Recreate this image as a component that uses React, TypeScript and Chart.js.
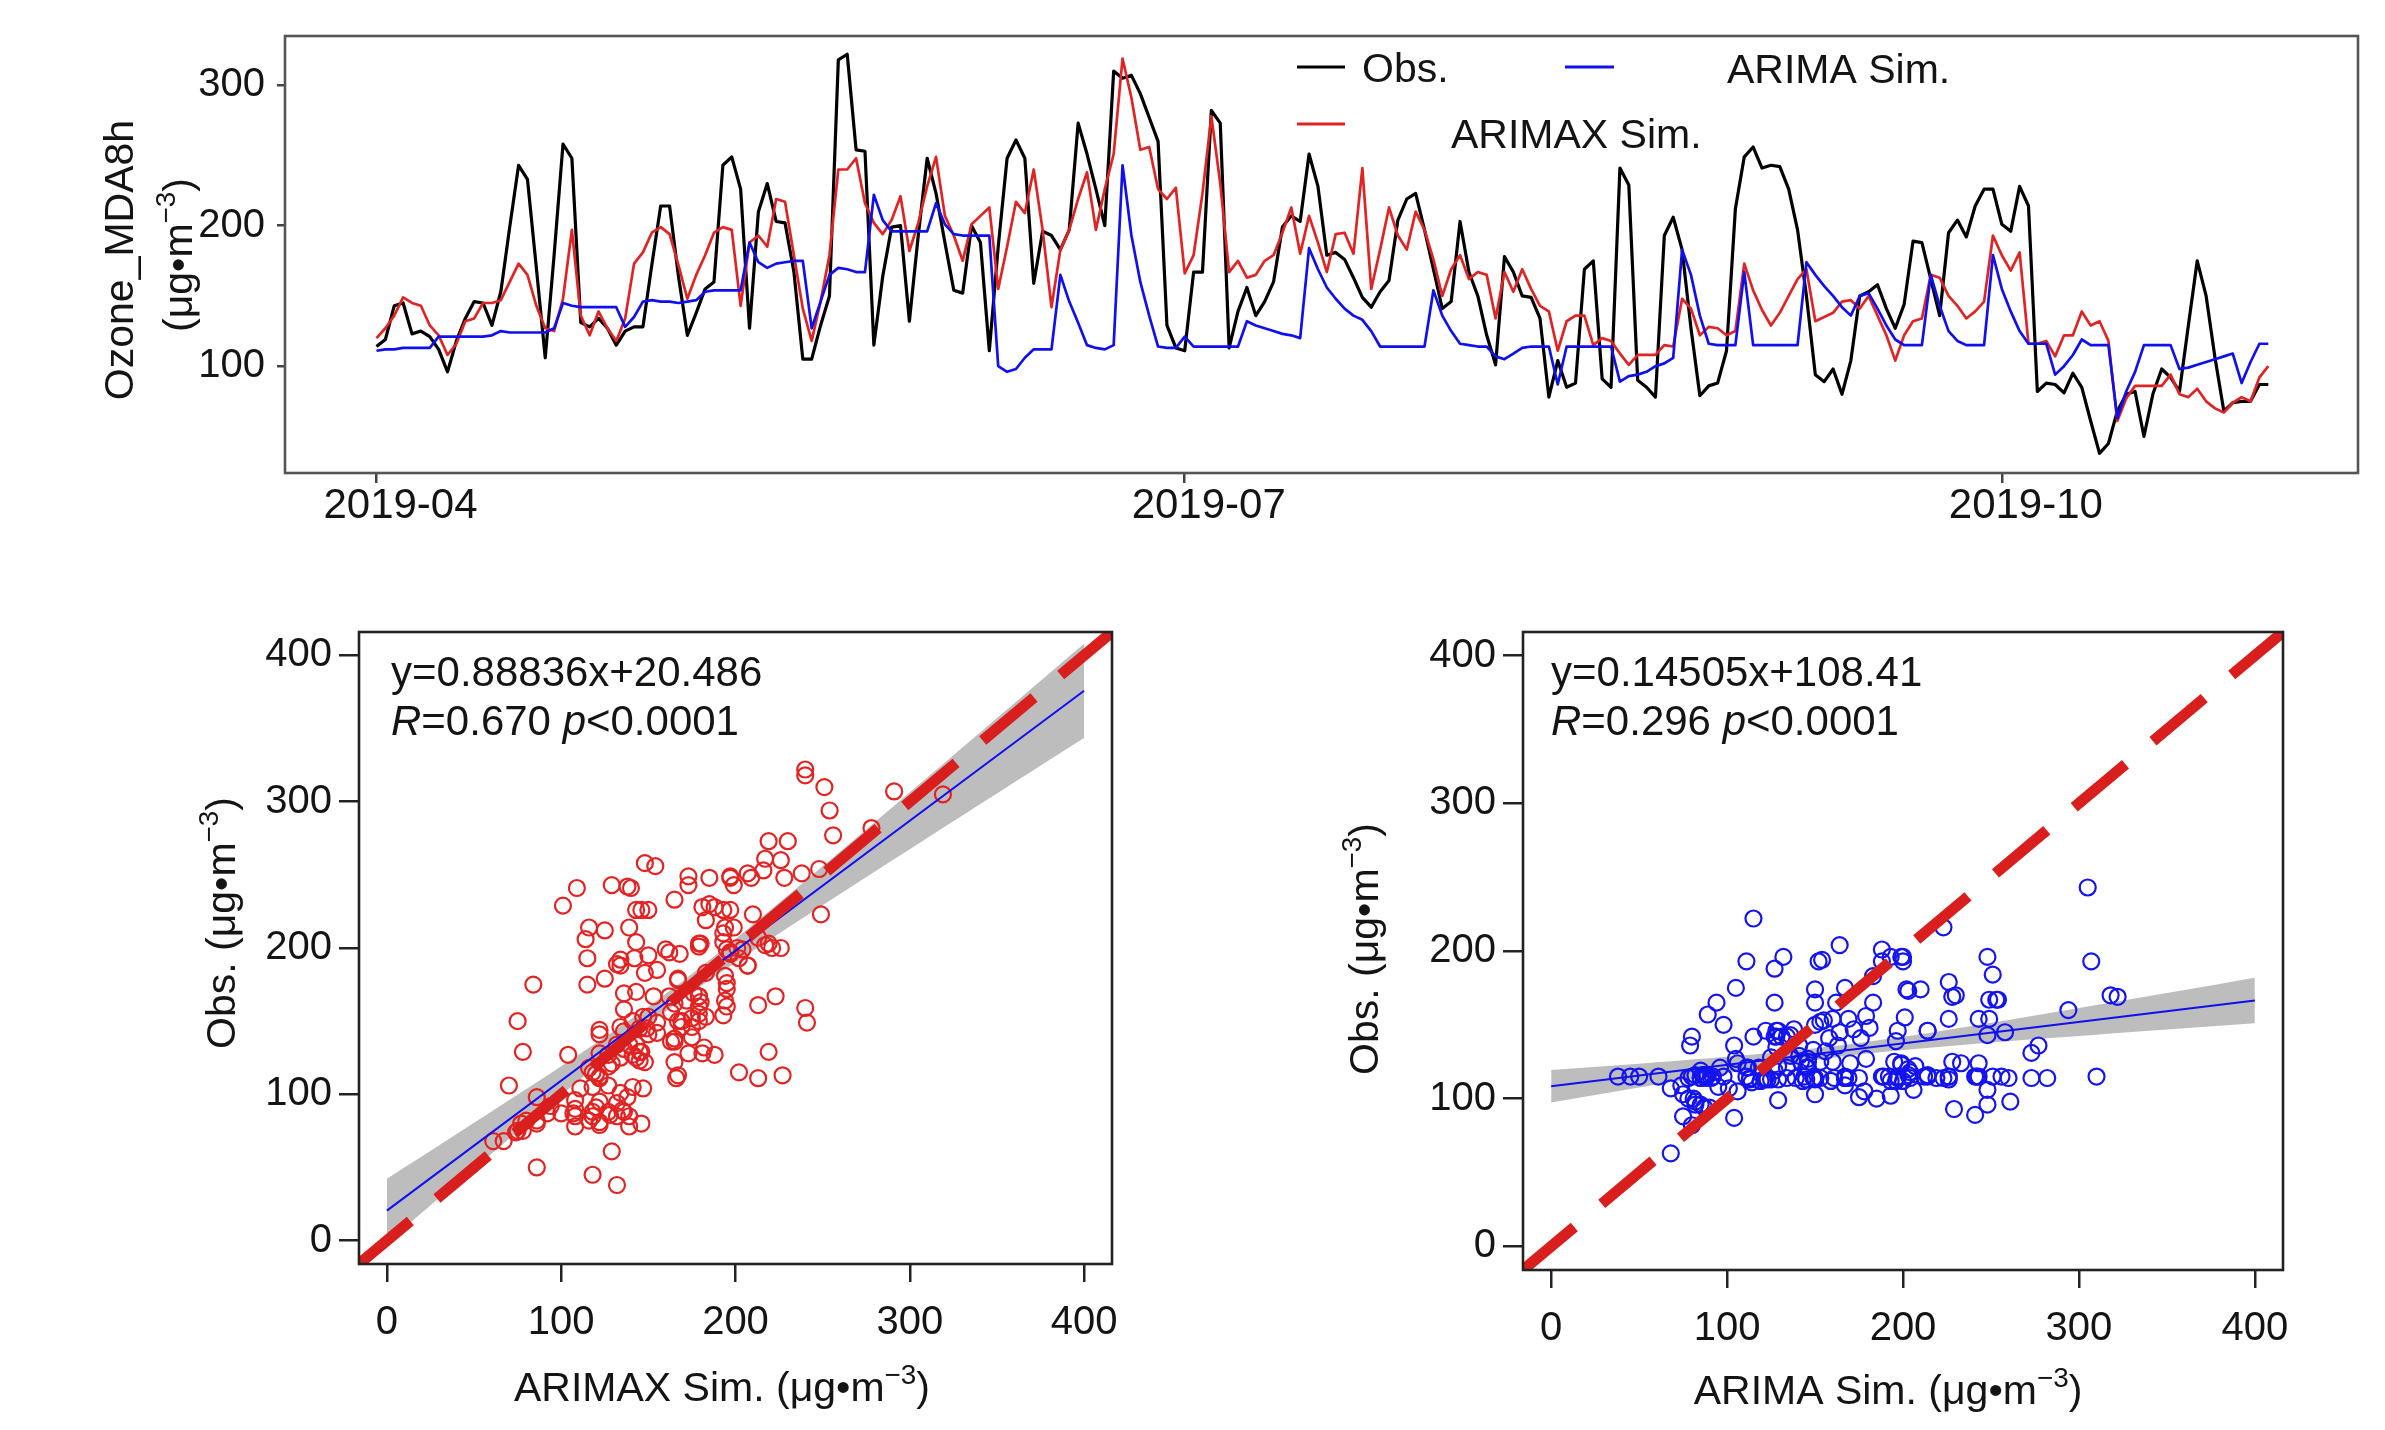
import React, { useEffect, useRef } from 'react';
import { Chart, registerables } from 'chart.js';

Chart.register(...registerables);

const FONT = '"Liberation Sans", Arial, Helvetica, sans-serif';
const TEXT = '#141414';
const RED_LINE = '#e02424';
const BLUE_LINE = '#1010ee';
const RED_PT = '#e32222';
const BLUE_PT = '#1414f0';
const DASH_RED = '#d91e1e';
const BAND = '#bdbdbd';

// ---------------- data (daily, starting 2019-04-01) ----------------
const OBS = [
  114, 119, 143, 145, 123, 125, 121, 112, 96, 118,
  134, 146, 145, 129, 153, 199, 243, 233, 170, 106,
  179, 258, 248, 131, 128, 134, 127, 115, 125, 128,
  128, 172, 214, 214, 164, 122, 138, 155, 160, 243,
  249, 226, 127, 210, 230, 203, 202, 167, 105, 105,
  129, 150, 318, 322, 254, 253, 115, 164, 199, 200,
  132, 193, 248, 223, 188, 154, 152, 200, 188, 111,
  185, 248, 261, 248, 159, 196, 193, 183, 197, 273,
  251, 226, 200, 310, 305, 307, 294, 277, 260, 129,
  113, 111, 167, 167, 282, 273, 113, 139, 156, 136,
  146, 160, 199, 207, 203, 251, 228, 179, 181, 176,
  163, 149, 142, 153, 161, 204, 219, 223, 197, 169,
  141, 146, 203, 167, 150, 122, 101, 178, 167, 150,
  149, 134, 78, 104, 85, 88, 169, 175, 91, 85,
  241, 229, 90, 85, 78, 193, 206, 183, 127, 79,
  86, 88, 111, 212, 249, 256, 241, 243, 242, 226,
  197, 150, 94, 89, 98, 80, 104, 150, 153, 158,
  141, 127, 144, 189, 188, 162, 136, 195, 204, 192,
  214, 226, 226, 201, 196, 228, 214, 82, 88, 87,
  81, 95, 85, 61, 38, 45, 68, 80, 82, 50,
  80, 98, 92, 82, 129, 175, 150, 106, 68, 74,
  75, 75, 87, 87,
];

const ARIMAX_SIM = [
  120, 127, 136, 149, 145, 143, 129, 122, 108, 116,
  132, 134, 145, 145, 147, 160, 173, 165, 143, 127,
  125, 148, 197, 136, 122, 139, 127, 118, 134, 173,
  181, 195, 199, 194, 172, 148, 165, 179, 195, 199,
  197, 143, 188, 193, 185, 219, 217, 179, 141, 118,
  146, 179, 240, 240, 248, 216, 202, 194, 204, 221,
  182, 202, 228, 249, 207, 193, 175, 201, 207, 213,
  155, 185, 217, 209, 240, 197, 142, 183, 197, 219,
  238, 197, 226, 251, 319, 291, 254, 256, 226, 219,
  227, 166, 179, 223, 278, 230, 167, 175, 163, 165,
  175, 179, 195, 213, 180, 207, 188, 167, 194, 195,
  180, 241, 155, 183, 213, 193, 183, 210, 197, 176,
  150, 169, 179, 162, 167, 165, 134, 167, 153, 169,
  155, 143, 139, 111, 132, 136, 136, 115, 120, 118,
  109, 101, 108, 108, 108, 115, 114, 148, 141, 122,
  128, 127, 122, 125, 173, 154, 140, 129, 138, 150,
  162, 169, 132, 135, 138, 146, 147, 141, 150, 136,
  122, 104, 122, 132, 134, 165, 163, 150, 143, 134,
  139, 146, 193, 179, 168, 181, 116, 116, 118, 107,
  122, 122, 139, 129, 132, 118, 61, 77, 86, 86,
  86, 86, 94, 80, 78, 84, 75, 70, 67, 74,
  78, 75, 92, 100,
];

const ARIMA_SIM = [
  111, 112, 112, 113, 113, 113, 113, 121, 121, 121,
  121, 121, 121, 122, 125, 124, 124, 124, 124, 124,
  127, 145, 143, 142, 142, 142, 142, 142, 128, 135,
  146, 147, 146, 146, 145, 146, 147, 153, 154, 154,
  154, 154, 188, 174, 170, 173, 174, 175, 175, 127,
  146, 165, 170, 169, 167, 167, 222, 204, 196, 196,
  196, 196, 196, 216, 201, 194, 193, 193, 193, 193,
  100, 96, 98, 106, 112, 112, 112, 165, 146, 131,
  115, 113, 112, 115, 243, 193, 160, 136, 114, 113,
  113, 121, 114, 114, 114, 114, 114, 114, 132, 129,
  127, 125, 123, 122, 120, 184, 169, 156, 148, 141,
  136, 133, 125, 114, 114, 114, 114, 114, 114, 154,
  136, 125, 116, 115, 114, 114, 107, 105, 109, 113,
  114, 114, 114, 87, 114, 114, 114, 114, 114, 114,
  89, 93, 94, 96, 100, 102, 106, 183, 165, 136,
  116, 115, 115, 115, 167, 115, 115, 115, 115, 115,
  115, 174, 165, 157, 150, 142, 136, 150, 152, 141,
  129, 119, 115, 115, 115, 165, 143, 125, 118, 115,
  115, 115, 179, 155, 139, 125, 116, 116, 116, 94,
  100, 108, 119, 115, 115, 115, 63, 82, 96, 115,
  115, 115, 115, 98, 99, 101, 103, 105, 107, 109,
  88, 103, 116, 116,
];

const DATE_TICK_DAYS = [0, 91, 183];
const DATE_TICK_LABELS = ['2019-04', '2019-07', '2019-10'];
const TS_Y_TICKS = [100, 200, 300];
const SCATTER_TICKS = [0, 100, 200, 300, 400];

const ARIMAX_FIT = { slope: 0.88836, intercept: 20.486, r: 0.67, p: '<0.0001' };
const ARIMA_FIT = { slope: 0.14505, intercept: 108.41, r: 0.296, p: '<0.0001' };
const FIT_X_RANGE = [0, 400];
const T_95 = 1.971;

const TS_X_RANGE = [-10.3, 223.1];
const TS_Y_RANGE = [24, 335];
const SCATTER_RANGE = [-16, 416];

// dashed 1:1 line style: dash length and number of full dash cycles across the panel
const DASH_LEN = 67;
const DASH_CYCLES = 9;

// ---------------- layout (page pixels) ----------------
type Frame = {
  canvas: { left: number; top: number; width: number; height: number };
  box: { l: number; t: number; r: number; b: number };
};
const TOP: Frame = { canvas: { left: 0, top: 0, width: 2385, height: 560 }, box: { l: 285, t: 31, r: 2358, b: 473 } };
const LEFT: Frame = { canvas: { left: 0, top: 580, width: 1200, height: 850 }, box: { l: 359, t: 632, r: 1112, b: 1264 } };
const RIGHT: Frame = { canvas: { left: 1200, top: 580, width: 1185, height: 850 }, box: { l: 1523, t: 632, r: 2283, b: 1270 } };

// ---------------- text helpers ----------------
type Seg = { text: string; scale?: number; rise?: number; italic?: boolean };
const fontStr = (size: number, italic?: boolean) => `${italic ? 'italic ' : ''}${size}px ${FONT}`;

function drawSegs(ctx: CanvasRenderingContext2D, segs: Seg[], x: number, y: number, size: number, align: 'left' | 'center', rotate = false) {
  ctx.save();
  ctx.translate(x, y);
  if (rotate) ctx.rotate(-Math.PI / 2);
  let w = 0;
  for (const s of segs) {
    ctx.font = fontStr(size * (s.scale ?? 1), s.italic);
    w += ctx.measureText(s.text).width;
  }
  let cx = align === 'center' ? -w / 2 : 0;
  ctx.fillStyle = TEXT;
  ctx.textAlign = 'left';
  ctx.textBaseline = 'alphabetic';
  const base = 0.36 * size;
  for (const s of segs) {
    ctx.font = fontStr(size * (s.scale ?? 1), s.italic);
    ctx.fillText(s.text, cx, base - (s.rise ?? 0) * size);
    cx += ctx.measureText(s.text).width;
  }
  ctx.restore();
}

const UNIT: Seg[] = [{ text: '(μg•m' }, { text: '−3', scale: 0.68, rise: 0.42 }, { text: ')' }];
const withUnit = (label: string): Seg[] => [{ text: label + ' ' + UNIT[0].text }, UNIT[1], UNIT[2]];

type TextItem = { segs: Seg[]; x: number; y: number; size: number; align: 'left' | 'center'; rotate?: boolean };
type LineItem = { x1: number; x2: number; y: number; color: string; width: number };

function framePlugin(color: string, width: number) {
  return {
    id: 'frame',
    afterDraw(chart: any) {
      const { ctx, chartArea: a } = chart;
      ctx.save();
      ctx.strokeStyle = color;
      ctx.lineWidth = width;
      ctx.strokeRect(a.left, a.top, a.right - a.left, a.bottom - a.top);
      ctx.restore();
    },
  };
}

function textPlugin(frame: Frame, texts: TextItem[], lines: LineItem[] = []) {
  const ox = frame.canvas.left;
  const oy = frame.canvas.top;
  return {
    id: 'texts',
    afterDraw(chart: any) {
      const ctx: CanvasRenderingContext2D = chart.ctx;
      for (const l of lines) {
        ctx.save();
        ctx.strokeStyle = l.color;
        ctx.lineWidth = l.width;
        ctx.beginPath();
        ctx.moveTo(l.x1 - ox, l.y - oy);
        ctx.lineTo(l.x2 - ox, l.y - oy);
        ctx.stroke();
        ctx.restore();
      }
      for (const t of texts) drawSegs(ctx, t.segs, t.x - ox, t.y - oy, t.size, t.align, t.rotate);
    },
  };
}

function fixedTicks(values: number[]) {
  return (axis: any) => {
    axis.ticks = values.map((v) => ({ value: v }));
  };
}

function layoutPadding(f: Frame) {
  return {
    left: 0,
    top: f.box.t - f.canvas.top,
    right: f.canvas.left + f.canvas.width - f.box.r,
    bottom: 0,
  };
}

// ---------------- time series ----------------
function tsConfig(): any {
  const f = TOP;
  const pts = (arr: number[]) => arr.map((v, i) => ({ x: i, y: v }));
  const tickFont = { family: FONT, size: 40 };
  return {
    type: 'line',
    data: {
      datasets: [
        { label: 'ARIMA Sim.', data: pts(ARIMA_SIM), borderColor: BLUE_LINE, borderWidth: 2.7, order: 1 },
        { label: 'ARIMAX Sim.', data: pts(ARIMAX_SIM), borderColor: RED_LINE, borderWidth: 2.7, order: 2 },
        { label: 'Obs.', data: pts(OBS), borderColor: '#000000', borderWidth: 3.2, order: 3 },
      ],
    },
    options: {
      animation: false,
      responsive: false,
      devicePixelRatio: 1,
      elements: { point: { radius: 0 }, line: { tension: 0, borderJoinStyle: 'round', fill: false } },
      layout: { autoPadding: false, padding: layoutPadding(f) },
      plugins: { legend: { display: false }, tooltip: { enabled: false } },
      scales: {
        x: {
          type: 'linear',
          min: TS_X_RANGE[0],
          max: TS_X_RANGE[1],
          afterBuildTicks: fixedTicks(DATE_TICK_DAYS),
          afterFit: (a: any) => { a.height = f.canvas.top + f.canvas.height - f.box.b; },
          ticks: {
            autoSkip: false,
            maxRotation: 0,
            minRotation: 0,
            padding: 2,
            labelOffset: 24,
            color: TEXT,
            font: { family: FONT, size: 42, lineHeight: 1 },
            callback: (v: any) => {
              const i = DATE_TICK_DAYS.indexOf(Number(v));
              return i >= 0 ? DATE_TICK_LABELS[i] : '';
            },
          },
          grid: { drawOnChartArea: false, drawTicks: true, tickLength: 10, color: '#444', lineWidth: 2.5 },
          border: { display: false },
        },
        y: {
          type: 'linear',
          min: TS_Y_RANGE[0],
          max: TS_Y_RANGE[1],
          afterBuildTicks: fixedTicks(TS_Y_TICKS),
          afterFit: (a: any) => { a.width = f.box.l - f.canvas.left; },
          ticks: { padding: 12, color: TEXT, font: tickFont },
          grid: { drawOnChartArea: false, drawTicks: true, tickLength: 8, color: '#444', lineWidth: 2.5 },
          border: { display: false },
        },
      },
    },
    plugins: [
      framePlugin('#555', 2.6),
      textPlugin(
        f,
        [
          { segs: [{ text: 'Ozone_MDA8h' }], x: 118, y: 260, size: 41, align: 'center', rotate: true },
          { segs: UNIT, x: 177, y: 255, size: 41, align: 'center', rotate: true },
          { segs: [{ text: 'Obs.' }], x: 1362, y: 67, size: 41, align: 'left' },
          { segs: [{ text: 'ARIMA Sim.' }], x: 1727, y: 68, size: 41, align: 'left' },
          { segs: [{ text: 'ARIMAX Sim.' }], x: 1451, y: 133, size: 41, align: 'left' },
        ],
        [
          { x1: 1297, x2: 1345, y: 67, color: '#000000', width: 3 },
          { x1: 1565, x2: 1614, y: 67, color: BLUE_LINE, width: 3 },
          { x1: 1297, x2: 1345, y: 124, color: RED_LINE, width: 3 },
        ]
      ),
    ],
  };
}

// ---------------- scatter ----------------
type Fit = { slope: number; intercept: number; r: number; p: string };

function fitStats(xs: number[], ys: number[], fit: Fit) {
  const n = xs.length;
  const mx = xs.reduce((a, b) => a + b, 0) / n;
  const sxx = xs.reduce((a, x) => a + (x - mx) ** 2, 0);
  const sse = xs.reduce((a, x, i) => a + (ys[i] - (fit.intercept + fit.slope * x)) ** 2, 0);
  const s = Math.sqrt(sse / (n - 2));
  return { n, mx, sxx, s };
}

function scatterConfig(
  f: Frame,
  xs: number[],
  ys: number[],
  fit: Fit,
  color: string,
  xTitle: string,
  yTitlePos: { x: number; y: number },
  xTitlePos: { x: number; y: number },
  annX: number
): any {
  const st = fitStats(xs, ys, fit);
  const line = (x: number) => fit.intercept + fit.slope * x;
  const hw = (x: number) => T_95 * st.s * Math.sqrt(1 / st.n + (x - st.mx) ** 2 / st.sxx);
  const bandX: number[] = [];
  for (let x = FIT_X_RANGE[0]; x <= FIT_X_RANGE[1]; x += 10) bandX.push(x);
  const diag = Math.hypot(f.box.r - f.box.l, f.box.b - f.box.t);
  const dashGap = (diag - DASH_LEN) / DASH_CYCLES - DASH_LEN;
  const tickFont = { family: FONT, size: 40, lineHeight: 1 };
  const gridOpt = { drawOnChartArea: false, drawTicks: true, color: '#222', lineWidth: 2.5 };
  return {
    type: 'scatter',
    data: {
      datasets: [
        {
          type: 'line',
          data: [
            { x: SCATTER_RANGE[0], y: SCATTER_RANGE[0] },
            { x: SCATTER_RANGE[1], y: SCATTER_RANGE[1] },
          ],
          borderColor: DASH_RED,
          borderWidth: 11,
          borderDash: [DASH_LEN, dashGap],
          pointRadius: 0,
          fill: false,
          clip: 0,
          order: 0,
        },
        {
          type: 'line',
          data: FIT_X_RANGE.map((x) => ({ x, y: line(x) })),
          borderColor: BLUE_LINE,
          borderWidth: 2,
          pointRadius: 0,
          fill: false,
          order: 1,
        },
        {
          type: 'scatter',
          data: xs.map((x, i) => ({ x, y: ys[i] })),
          pointRadius: 8,
          pointBorderWidth: 2.2,
          pointBorderColor: color,
          pointBackgroundColor: 'rgba(0,0,0,0)',
          borderColor: color,
          backgroundColor: 'rgba(0,0,0,0)',
          order: 2,
        },
        {
          type: 'line',
          data: bandX.map((x) => ({ x, y: line(x) + hw(x) })),
          borderWidth: 0,
          borderColor: 'rgba(0,0,0,0)',
          backgroundColor: BAND,
          pointRadius: 0,
          fill: '+1',
          order: 3,
        },
        {
          type: 'line',
          data: bandX.map((x) => ({ x, y: line(x) - hw(x) })),
          borderWidth: 0,
          borderColor: 'rgba(0,0,0,0)',
          pointRadius: 0,
          fill: false,
          order: 4,
        },
      ],
    },
    options: {
      animation: false,
      responsive: false,
      devicePixelRatio: 1,
      elements: { line: { tension: 0 } },
      layout: { autoPadding: false, padding: layoutPadding(f) },
      plugins: { legend: { display: false }, tooltip: { enabled: false } },
      scales: {
        x: {
          type: 'linear',
          min: SCATTER_RANGE[0],
          max: SCATTER_RANGE[1],
          afterBuildTicks: fixedTicks(SCATTER_TICKS),
          afterFit: (a: any) => { a.height = f.canvas.top + f.canvas.height - f.box.b; },
          ticks: { autoSkip: false, maxRotation: 0, padding: 21, color: TEXT, font: tickFont },
          grid: { ...gridOpt, tickLength: 18 },
          border: { display: false },
        },
        y: {
          type: 'linear',
          min: SCATTER_RANGE[0],
          max: SCATTER_RANGE[1],
          afterBuildTicks: fixedTicks(SCATTER_TICKS),
          afterFit: (a: any) => { a.width = f.box.l - f.canvas.left; },
          ticks: { padding: 7, color: TEXT, font: { family: FONT, size: 40 } },
          grid: { ...gridOpt, tickLength: 20 },
          border: { display: false },
        },
      },
    },
    plugins: [
      framePlugin('#222', 2.6),
      textPlugin(f, [
        { segs: withUnit('Obs.'), x: yTitlePos.x, y: yTitlePos.y, size: 41, align: 'center', rotate: true },
        { segs: withUnit(xTitle), x: xTitlePos.x, y: xTitlePos.y, size: 41, align: 'center' },
        { segs: [{ text: `y=${fit.slope}x+${fit.intercept}` }], x: annX, y: 671, size: 42, align: 'left' },
        {
          segs: [
            { text: 'R', italic: true },
            { text: `=${fit.r.toFixed(3)} ` },
            { text: 'p', italic: true },
            { text: fit.p },
          ],
          x: annX,
          y: 720,
          size: 42,
          align: 'left',
        },
      ]),
    ],
  };
}

function ChartBox({ frame, build }: { frame: Frame; build: () => any }) {
  const ref = useRef<HTMLCanvasElement | null>(null);
  useEffect(() => {
    if (!ref.current) return;
    const chart = new Chart(ref.current, build());
    return () => chart.destroy();
  }, []);
  const c = frame.canvas;
  return (
    <canvas
      ref={ref}
      width={c.width}
      height={c.height}
      style={{ position: 'absolute', left: c.left, top: c.top, width: c.width, height: c.height }}
    />
  );
}

export default function App() {
  return (
    <div style={{ position: 'absolute', left: 0, top: 0, width: 2385, height: 1430, background: '#ffffff', overflow: 'hidden' }}>
      <ChartBox frame={TOP} build={tsConfig} />
      <ChartBox
        frame={LEFT}
        build={() =>
          scatterConfig(LEFT, ARIMAX_SIM, OBS, ARIMAX_FIT, RED_PT, 'ARIMAX Sim.', { x: 220, y: 923 }, { x: 722, y: 1386 }, 391)
        }
      />
      <ChartBox
        frame={RIGHT}
        build={() =>
          scatterConfig(RIGHT, OBS, ARIMA_SIM, ARIMA_FIT, BLUE_PT, 'ARIMA Sim.', { x: 1363, y: 949 }, { x: 1888, y: 1389 }, 1551)
        }
      />
    </div>
  );
}
